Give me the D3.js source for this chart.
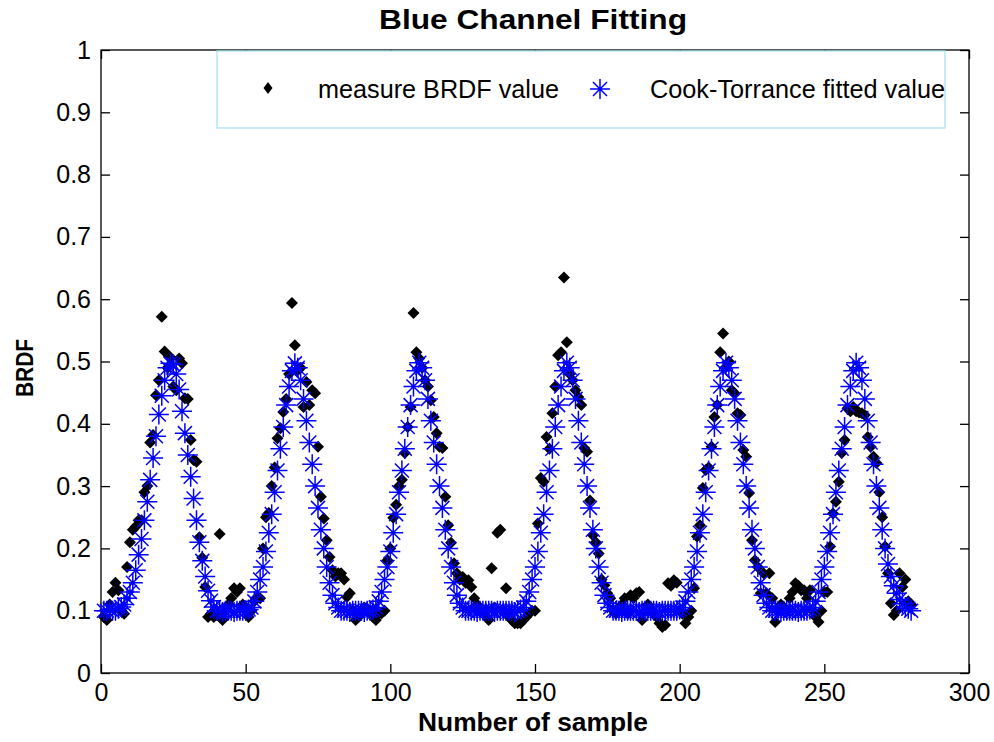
<!doctype html>
<meta charset="utf-8">
<script src="https://d3js.org/d3.v7.min.js"></script>
<style>
  body { margin: 0; background: #fff; }
  text { font-family: "Liberation Sans", Arial, sans-serif; }
</style>
<body></body>
<script>

// x ticks (sample number) and y ticks (BRDF)
var sampleTicks = [0, 50, 100, 150, 200, 250, 300];
var brdfTicks = [0, 0.1, 0.2, 0.3, 0.4, 0.5, 0.6, 0.7, 0.8, 0.9, 1];

// measured BRDF value, one per sample (1..280)
var measuredBRDF = [
  0.09, 0.085, 0.11, 0.13, 0.145, 0.133, 0.1, 0.095, 0.17, 0.21,
  0.23, 0.235, 0.245, 0.245, 0.29, 0.3, 0.37, 0.382, 0.446, 0.47,
  0.572, 0.516, 0.49, 0.507, 0.46, 0.454, 0.505, 0.497, 0.441, 0.44,
  0.374, 0.342, 0.339, 0.218, 0.185, 0.138, 0.09, 0.095, 0.09, 0.1,
  0.223, 0.085, 0.1, 0.11, 0.12, 0.136, 0.13, 0.136, 0.11, 0.1,
  0.09, 0.1, 0.115, 0.122, 0.12, 0.2, 0.25, 0.257, 0.3, 0.33,
  0.377, 0.393, 0.419, 0.44, 0.48, 0.594, 0.526, 0.486, 0.49, 0.427,
  0.467, 0.43, 0.454, 0.449, 0.363, 0.283, 0.248, 0.213, 0.186, 0.165,
  0.155, 0.16, 0.16, 0.15, 0.122, 0.128, 0.1, 0.085, 0.09, 0.1,
  0.105, 0.1, 0.095, 0.09, 0.085, 0.095, 0.096, 0.1, 0.181, 0.2,
  0.249, 0.27, 0.3, 0.31, 0.353, 0.395, 0.427, 0.578, 0.515, 0.505,
  0.49, 0.47, 0.46, 0.438, 0.411, 0.385, 0.363, 0.361, 0.283, 0.237,
  0.209, 0.176, 0.16, 0.15, 0.154, 0.145, 0.149, 0.138, 0.12, 0.11,
  0.1, 0.095, 0.1, 0.085, 0.168, 0.105, 0.225, 0.23, 0.1, 0.136,
  0.09, 0.085, 0.08, 0.08, 0.08, 0.085, 0.09, 0.096, 0.1, 0.1,
  0.24, 0.313, 0.307, 0.379, 0.36, 0.417, 0.46, 0.51, 0.515, 0.635,
  0.531, 0.48, 0.47, 0.454, 0.443, 0.43, 0.361, 0.355, 0.277, 0.221,
  0.21, 0.192, 0.15, 0.141, 0.128, 0.12, 0.1, 0.096, 0.1, 0.11,
  0.12, 0.096, 0.125, 0.12, 0.128, 0.13, 0.085, 0.1, 0.11, 0.1,
  0.095, 0.09, 0.08, 0.074, 0.077, 0.144, 0.14, 0.149, 0.145, 0.1,
  0.095, 0.08, 0.09, 0.1, 0.136, 0.219, 0.237, 0.297, 0.326, 0.33,
  0.363, 0.411, 0.43, 0.515, 0.545, 0.491, 0.5, 0.454, 0.449, 0.417,
  0.414, 0.358, 0.347, 0.289, 0.213, 0.181, 0.17, 0.128, 0.16, 0.128,
  0.16, 0.12, 0.082, 0.1, 0.11, 0.105, 0.1, 0.12, 0.13, 0.144,
  0.14, 0.133, 0.133, 0.12, 0.133, 0.1, 0.09, 0.082, 0.1, 0.13,
  0.13, 0.203, 0.256, 0.275, 0.307, 0.353, 0.374, 0.425, 0.42, 0.427,
  0.42, 0.418, 0.417, 0.414, 0.379, 0.363, 0.347, 0.337, 0.29, 0.25,
  0.203, 0.16, 0.112, 0.093, 0.1, 0.16, 0.138, 0.15, 0.115, 0.11
];

// Cook-Torrance fitted value, one per sample (1..280)
var fittedBRDF = [
  // 1-8
  0.1, 0.1, 0.102, 0.1, 0.1, 0.103, 0.106, 0.11,
  // 9-39
  0.12, 0.13, 0.145, 0.165, 0.19, 0.215, 0.245, 0.275, 0.31, 0.345, 0.38,
  0.415, 0.445, 0.47, 0.49, 0.497, 0.495, 0.48, 0.455, 0.42, 0.385, 0.35,
  0.315, 0.28, 0.245, 0.21, 0.18, 0.155, 0.132, 0.116, 0.106,
  // 40-51
  0.1, 0.1, 0.098, 0.1, 0.1, 0.1, 0.098, 0.1, 0.1, 0.1, 0.1, 0.102,
  // 52-82
  0.105, 0.115, 0.13, 0.15, 0.17, 0.195, 0.225, 0.255, 0.29, 0.325, 0.36,
  0.395, 0.43, 0.46, 0.485, 0.497, 0.49, 0.47, 0.44, 0.405, 0.37, 0.335,
  0.3, 0.265, 0.23, 0.2, 0.17, 0.145, 0.125, 0.112, 0.105,
  // 83-94
  0.1, 0.1, 0.1, 0.098, 0.1, 0.1, 0.1, 0.1, 0.098, 0.1, 0.1, 0.102,
  // 95-125
  0.105, 0.115, 0.13, 0.15, 0.17, 0.195, 0.225, 0.255, 0.29, 0.325, 0.36,
  0.395, 0.43, 0.46, 0.485, 0.498, 0.49, 0.47, 0.44, 0.405, 0.37, 0.335,
  0.3, 0.265, 0.23, 0.2, 0.17, 0.145, 0.125, 0.112, 0.105,
  // 126-145
  0.1, 0.1, 0.1, 0.1, 0.098, 0.1, 0.1, 0.1, 0.1, 0.1,
  0.098, 0.1, 0.1, 0.1, 0.1, 0.1, 0.1, 0.098, 0.1, 0.102,
  // 146-176
  0.105, 0.115, 0.13, 0.15, 0.17, 0.195, 0.225, 0.255, 0.29, 0.325, 0.36,
  0.395, 0.43, 0.46, 0.485, 0.498, 0.49, 0.47, 0.44, 0.405, 0.37, 0.335,
  0.3, 0.265, 0.23, 0.2, 0.17, 0.145, 0.125, 0.112, 0.105,
  // 177-200
  0.1, 0.1, 0.1, 0.098, 0.1, 0.1, 0.1, 0.1, 0.1, 0.098, 0.1, 0.1,
  0.1, 0.1, 0.1, 0.1, 0.098, 0.1, 0.1, 0.1, 0.1, 0.1, 0.1, 0.102,
  // 201-231
  0.105, 0.115, 0.13, 0.15, 0.17, 0.195, 0.225, 0.255, 0.29, 0.325, 0.36,
  0.395, 0.43, 0.46, 0.485, 0.498, 0.49, 0.47, 0.44, 0.405, 0.37, 0.335,
  0.3, 0.265, 0.23, 0.2, 0.17, 0.145, 0.125, 0.112, 0.105,
  // 232-245
  0.1, 0.1, 0.1, 0.098, 0.1, 0.1, 0.1, 0.1, 0.1, 0.098, 0.1, 0.1, 0.1, 0.102,
  // 246-280
  0.105, 0.115, 0.13, 0.15, 0.17, 0.195, 0.225, 0.255, 0.29, 0.325, 0.36,
  0.395, 0.43, 0.46, 0.485, 0.498, 0.49, 0.47, 0.44, 0.405, 0.37, 0.335,
  0.3, 0.265, 0.23, 0.2, 0.175, 0.155, 0.14, 0.128, 0.118, 0.111, 0.106,
  0.103, 0.1
];

var width = 994;
var height = 742;
var plotLeft = 101, plotRight = 969, plotTop = 50, plotBottom = 673;

var svg = d3.select("body")
        .append("svg")
        .attr("width", width)
        .attr("height", height);

svg.append("rect")
        .attr("width", width)
        .attr("height", height)
        .style("fill", "#fff");

var x = d3.scaleLinear().domain([0, 300]).range([plotLeft, plotRight]);
var y = d3.scaleLinear().domain([0, 1]).range([plotBottom, plotTop]);

var fmt = function(d) { return String(+d.toFixed(1)); };

// axes, ticks pointing inward
function styleAxis(g) {
    g.select(".domain").remove();
    g.selectAll("line").attr("stroke", "#000").attr("stroke-width", 1.3);
    g.selectAll("text").attr("fill", "#000")
            .style("font-size", "25px");
}

svg.append("g")
        .attr("transform", "translate(" + plotLeft + ",0)")
        .call(d3.axisLeft(y).tickValues(brdfTicks).tickFormat(fmt).tickSize(-9).tickPadding(10))
        .call(styleAxis);

svg.append("g")
        .attr("transform", "translate(" + plotRight + ",0)")
        .call(d3.axisRight(y).tickValues(brdfTicks).tickFormat("").tickSize(-9))
        .call(styleAxis);

svg.append("g")
        .attr("transform", "translate(0," + plotBottom + ")")
        .call(d3.axisBottom(x).tickValues(sampleTicks).tickFormat(d3.format("d")).tickSize(-9).tickPadding(10))
        .call(styleAxis);

svg.append("g")
        .attr("transform", "translate(0," + plotTop + ")")
        .call(d3.axisTop(x).tickValues(sampleTicks).tickFormat("").tickSize(-9))
        .call(styleAxis);

svg.append("rect")
        .attr("x", plotLeft)
        .attr("y", plotTop)
        .attr("width", plotRight - plotLeft)
        .attr("height", plotBottom - plotTop)
        .style("fill", "none")
        .style("stroke", "#000")
        .style("stroke-width", 1.3);

// markers
var diamond = "M0,-6L6,0L0,6L-6,0Z";
var r = 10, d = 7;
var asterisk = "M" + (-r) + ",0H" + r + "M0," + (-r) + "V" + r +
        "M" + (-d) + "," + (-d) + "L" + d + "," + d +
        "M" + (-d) + "," + d + "L" + d + "," + (-d);

svg.append("g").selectAll("path")
        .data(measuredBRDF)
        .enter().append("path")
        .attr("d", diamond)
        .attr("transform", function(v, i) { return "translate(" + x(i + 1) + "," + y(v) + ")"; })
        .style("fill", "#000");

svg.append("g").selectAll("path")
        .data(fittedBRDF)
        .enter().append("path")
        .attr("d", asterisk)
        .attr("transform", function(v, i) { return "translate(" + x(i + 1) + "," + y(v) + ")"; })
        .style("fill", "none")
        .style("stroke", "#0000ff")
        .style("stroke-width", 1.5);

// legend
var legend = svg.append("g");
legend.append("rect")
        .attr("x", 217).attr("y", 51)
        .attr("width", 728).attr("height", 77)
        .style("fill", "#fff")
        .style("stroke", "#a8e2f0")
        .style("stroke-width", 1.3);
legend.append("path")
        .attr("d", "M0,-6L4.5,0L0,6L-4.5,0Z")
        .attr("transform", "translate(268,88)")
        .style("fill", "#000");
legend.append("text")
        .attr("x", 318).attr("y", 98)
        .attr("textLength", 241).attr("lengthAdjust", "spacingAndGlyphs")
        .style("font-size", "25px")
        .text("measure BRDF value");
legend.append("path")
        .attr("d", asterisk)
        .attr("transform", "translate(600,89)")
        .style("fill", "none")
        .style("stroke", "#0000ff")
        .style("stroke-width", 1.5);
legend.append("text")
        .attr("x", 650).attr("y", 98)
        .attr("textLength", 295).attr("lengthAdjust", "spacingAndGlyphs")
        .style("font-size", "25px")
        .text("Cook-Torrance fitted value");

// title and axis labels
svg.append("text")
        .attr("x", 533).attr("y", 29)
        .attr("text-anchor", "middle")
        .attr("textLength", 308).attr("lengthAdjust", "spacingAndGlyphs")
        .style("font-size", "28px").style("font-weight", "bold")
        .text("Blue Channel Fitting");

svg.append("text")
        .attr("x", 533).attr("y", 731)
        .attr("text-anchor", "middle")
        .attr("textLength", 230).attr("lengthAdjust", "spacingAndGlyphs")
        .style("font-size", "26px").style("font-weight", "bold")
        .text("Number of sample");

svg.append("text")
        .attr("transform", "translate(33,368) rotate(-90)")
        .attr("text-anchor", "middle")
        .attr("textLength", 58).attr("lengthAdjust", "spacingAndGlyphs")
        .style("font-size", "24px").style("font-weight", "bold")
        .text("BRDF");

</script>
